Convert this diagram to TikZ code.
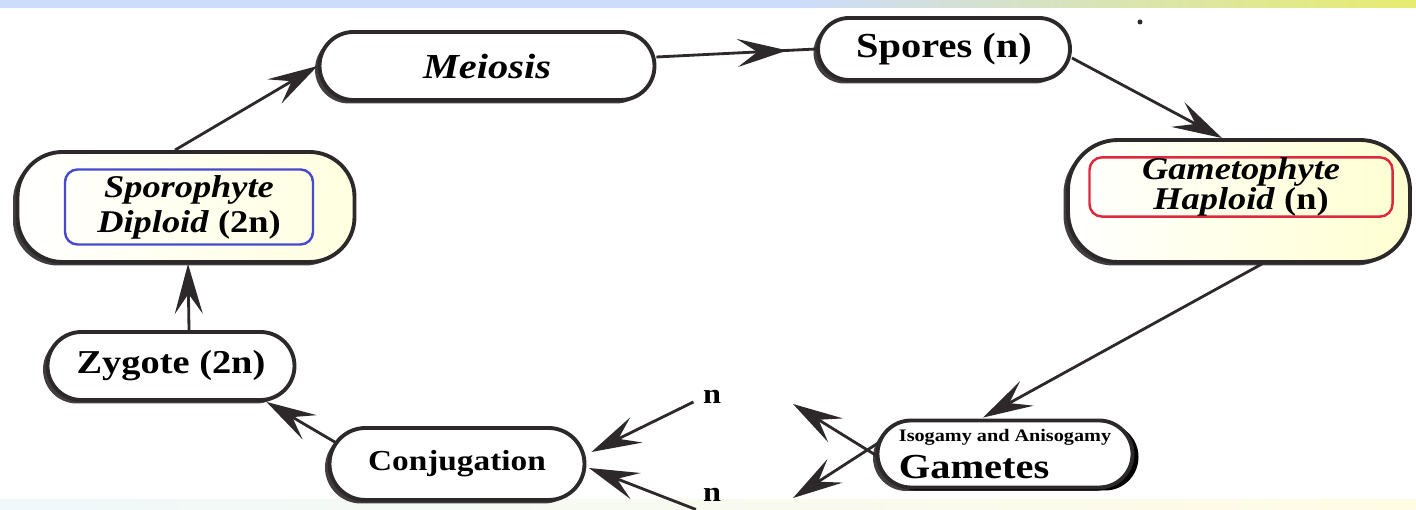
\documentclass[tikz,border=0pt]{standalone}
\usepackage{fontspec}
\setmainfont{Liberation Serif}[FakeStretch=1.15]
\usepackage{xcolor}
\usepackage{tikz}
\usetikzlibrary{positioning, calc, arrows.meta, shadows, backgrounds, decorations.markings}
\definecolor{inkgray}{RGB}{45,40,42}
\definecolor{topblue}{RGB}{205,220,250}
\definecolor{topyellow}{RGB}{230,236,110}
\definecolor{lowcyan}{RGB}{240,248,250}
\definecolor{lowcream}{RGB}{255,252,228}
\definecolor{sporoblue}{RGB}{72,74,205}
\definecolor{gametored}{RGB}{222,40,62}
\tikzset{
    stagenode/.style={
        draw=inkgray, line width=2.2pt, fill=white, rounded corners=#1,
        align=center, inner sep=2pt,
        drop shadow={shadow xshift=-0.09cm, shadow yshift=-0.07cm, fill=inkgray, opacity=0.9}
    },
    innerbox/.style={
        draw=#1, line width=1.4pt, rounded corners=0.25cm, align=center, inner sep=0pt
    },
    bigtext/.style={
        font=\fontsize{#1}{#1}\selectfont\bfseries
    },
    nlabel/.style={
        font=\fontsize{16}{16}\selectfont\bfseries, inner sep=1pt
    },
    midarrow/.style={
        postaction={decorate},
        decoration={markings, mark=at position #1 with {\arrow{>}}}
    }
}

\begin{document}
\begin{tikzpicture}[
        >={Stealth[length=10mm, width=5.6mm, inset=4mm]},
        flow/.style={draw=inkgray, line width=1.6pt, ->},
        plainflow/.style={draw=inkgray, line width=1.6pt}
    ]
    \useasboundingbox (0,0) rectangle (28.32,10.2);
    \clip (0,0) rectangle (28.32,10.2);

    % stages of the cycle
    \node[stagenode=0.68cm, minimum width=6.7cm, minimum height=1.36cm,
          bigtext=20] (meiosis) at (9.74,8.88) {\itshape Meiosis};
    \node[stagenode=0.62cm, minimum width=5.04cm, minimum height=1.24cm,
          bigtext=20] (spores) at (18.88,9.22) {Spores (n)};
    \node[stagenode=0.9cm, minimum width=6.74cm, minimum height=2.2cm,
          left color=white, right color=yellow!12] (sporo) at (3.72,6.06) {};
    \node[innerbox=sporoblue, minimum width=4.96cm, minimum height=1.5cm,
          bigtext=18] (sporotext) at (3.78,6.06)
          {\textit{Sporophyte}\\[2pt]\textit{Diploid} (2n)};
    \node[stagenode=1cm, minimum width=6.84cm, minimum height=2.44cm,
          left color=white, right color=yellow!18] (gameto) at (24.78,6.18) {};
    \node[innerbox=gametored, minimum width=6.06cm, minimum height=1.1cm,
          font=\fontsize{18}{15}\selectfont\bfseries] (gametotext) at (24.82,6.46)
          {\textit{Gametophyte}\\\textit{Haploid} (n)};
    \node[stagenode=0.68cm, minimum width=4.94cm, minimum height=1.36cm,
          bigtext=19] (zygote) at (3.42,2.88) {Zygote (2n)};
    \node[stagenode=0.72cm, minimum width=5.1cm, minimum height=1.44cm,
          bigtext=16.5] (conj) at (9.14,0.92) {Conjugation};
    \node[stagenode=0.67cm, minimum width=5.1cm, minimum height=1.34cm, align=left,
          drop shadow={shadow xshift=0.12cm, shadow yshift=-0.06cm, fill=black, opacity=1},
          bigtext=20] (gametes) at (20.1,1.12)
          {{\fontsize{10}{10}\selectfont Isogamy and Anisogamy}\\[1pt]Gametes};

    % haploid labels
    \node[nlabel] (n1) at (14.24,2.26) {n};
    \node[nlabel, below=1.6cm of n1] (n2) {n};
    \fill[inkgray] (22.8,9.76) circle (0.05);

    \begin{scope}[on background layer]
        % coloured strips
        \fill[topblue] (0,10.04) rectangle (16,10.2);
        \shade[left color=topblue, right color=topyellow]
            (16,10.04) rectangle (28.32,10.2);
        \shade[left color=lowcyan, right color=lowcream] (0,0) rectangle (28.32,0.2);

        % connectors
        \draw[flow] ($(sporo.north)+(-0.22,0)$) -- (meiosis.west);
        \draw[plainflow, midarrow=0.82] ($(meiosis.east)+(0,0.18)$) -- (spores.west);
        \draw[flow] ($(spores.east)+(0,-0.18)$) -- ($(gameto.north)+(-0.34,0)$);
        \draw[flow] ($(gameto.south)+(0.46,0)$) -- ($(gametes.north)+(-0.44,0.02)$);
        \coordinate (tipA) at (15.86,2.12);
        \coordinate (tipB) at (15.86,0.24);
        \draw[flow] ($(gametes.west)+(0.45,-0.3)$) -- (tipA);
        \draw[flow] ($(gametes.west)+(0.3,0.38)$) -- (tipB);
        \draw[flow] ($(n1.west)+(-0.15,-0.1)$) -- ($(conj.east)+(0.1,0.24)$);
        \draw[flow] ($(n2.west)+(-0.1,-0.3)$) -- ($(conj.east)+(0.05,-0.08)$);
        \draw[flow] ($(conj.west)+(0.28,0.36)$) -- ($(zygote.south east)+(-0.6,0)$);
        \draw[flow] ($(zygote.north)+(0.36,0)$) -- ($(sporo.south)+(0.04,0)$);
    \end{scope}
\end{tikzpicture}
\end{document}
